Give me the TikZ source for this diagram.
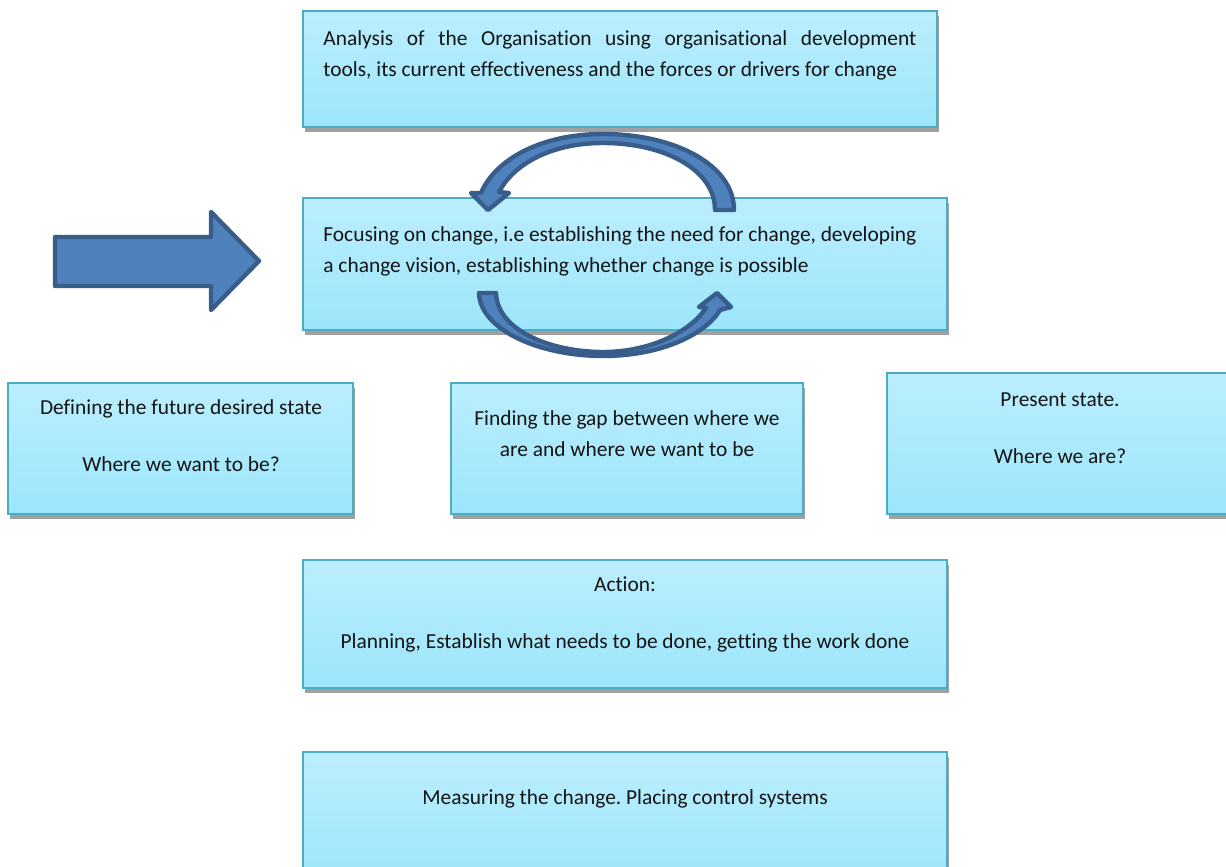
\documentclass[tikz,border=0pt]{standalone}
\usepackage{fontspec}
\setmainfont{Carlito}[Ligatures={NoCommon}]
\usetikzlibrary{fit,shadows}
\frenchspacing
\definecolor{boxtop}{RGB}{188,238,253}
\definecolor{boxbot}{RGB}{156,230,252}
\definecolor{boxline}{RGB}{75,172,198}
\definecolor{shadowgray}{RGB}{160,160,160}
\definecolor{arrowfill}{RGB}{79,129,189}
\definecolor{arrowline}{RGB}{56,93,138}
\begin{document}
\begin{tikzpicture}[x=0.5pt,y=-0.5pt,
  panel/.style={inner sep=0pt, draw=boxline, line width=1.1pt,
    top color=boxtop, bottom color=boxbot,
    general shadow={fill=shadowgray, shadow xshift=0.8pt, shadow yshift=-2.6pt}},
  label/.style={inner sep=0pt, font=\fontsize{10.7}{15}\selectfont, text=black!92},
  blockarrow/.style={fill=arrowfill, draw=arrowline, line width=2.2pt, line join=round}]
\useasboundingbox (0,0) rectangle (1226,867);

% stage panels
\node[panel, fit={(303,11)(937,127)}] (analysis) {};
\node[panel, fit={(303,198)(947,330)}] (focus) {};
\node[panel, fit={(8,383)(353,514)}] (future) {};
\node[panel, fit={(451,383)(803,514)}] (gap) {};
\node[panel, fit={(887,373)(1234,514)}] (present) {};
\node[panel, fit={(303,560)(947,688)}] (action) {};
\node[panel, fit={(303,752)(947,885)}] (measure) {};

% panel texts
\node[label, anchor=base west] (analysisA) at (323,46) {\makebox[296.5pt][s]{Analysis of the Organisation using organisational development}};
\node[label, anchor=base west] (analysisB) at (323,76) {tools, its current effectiveness and the forces or drivers for change};
\node[label, anchor=base west] (focusA) at (323,241) {\makebox[296.5pt][s]{Focusing on change, i.e establishing the need for change, developing}};
\node[label, anchor=base west] (focusB) at (323,272) {a change vision, establishing whether change is possible};
\node[label, anchor=base] (futureA) at (181,414) {Defining the future desired state};
\node[label, anchor=base] (futureB) at (181,471) {Where we want to be?};
\node[label, anchor=base] (gapA) at (627,425) {Finding the gap between where we};
\node[label, anchor=base] (gapB) at (627,456) {are and where we want to be};
\node[label, anchor=base] (presentA) at (1060,406) {Present state.};
\node[label, anchor=base] (presentB) at (1060,463) {Where we are?};
\node[label, anchor=base] (actionA) at (625,591) {Action:};
\node[label, anchor=base] (actionB) at (625,648) {Planning, Establish what needs to be done, getting the work done};
\node[label, anchor=base] (measureA) at (625,804) {Measuring the change. Placing control systems};

% entry block arrow
\draw[blockarrow] (55,237) -- (211,237) -- (211,212) -- (259,261) -- (211,310)
  -- (211,286) -- (55,286) -- cycle;

% upper curved arrow (right to left over the top)
\draw[blockarrow] (734,210) .. controls (734,165) and (675,134) .. (603,134)
  .. controls (540,134) and (495,160) .. (481,193) -- (471,193) -- (488,210)
  -- (509,193) -- (499,192) .. controls (513,165) and (550,143) .. (603,143)
  .. controls (665,143) and (715,170) .. (715,210) -- cycle;

% lower curved arrow (left to right under the bottom)
\draw[blockarrow] (479,293) .. controls (480,330) and (540,356) .. (603,356)
  .. controls (660,356) and (705,335) .. (720,310) -- (731,307) -- (717,293)
  -- (699,307) -- (706,308) .. controls (690,332) and (650,352) .. (603,352)
  .. controls (550,352) and (497,330) .. (496,293) -- cycle;
\end{tikzpicture}
\end{document}
